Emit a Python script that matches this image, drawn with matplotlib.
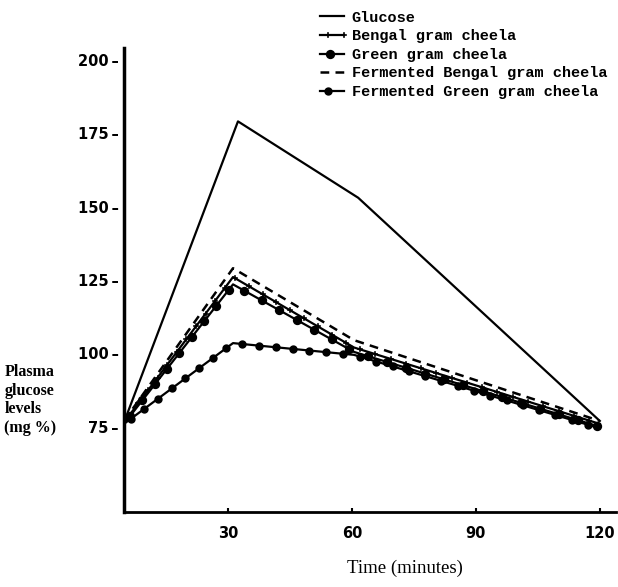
import numpy as np
import matplotlib
matplotlib.use("Agg")
import matplotlib.pyplot as plt
from matplotlib.patheffects import AbstractPathEffect
from matplotlib.path import Path
from matplotlib.transforms import Affine2D, IdentityTransform

# values (time in minutes, plasma glucose mg %)
labels = ["Glucose", "Bengal gram cheela", "Green gram cheela",
          "Fermented Bengal gram cheela", "Fermented Green gram cheela"]
t_glucose = [4.8, 32.4, 61.5, 120]
glucose = [76.5, 179, 153, 77]
t_cheela = [4.8, 31.2, 60.5, 120]
bengal = [76.5, 126, 102, 76]
green = [76, 123.5, 100.5, 75]
ferm_bengal = [77, 129, 104.5, 77]
ferm_green = [76, 103.5, 99.5, 74.5]

x_ticks = [30, 60, 90, 120]
y_ticks = [75, 100, 125, 150, 175, 200]


class MarkersAlong(AbstractPathEffect):
    # draws the line, then a marker every `spacing` pixels along it
    def __init__(self, marker="o", size=5, spacing=17):
        super().__init__()
        self.marker = marker
        self.size = size
        self.spacing = spacing

    def draw_path(self, renderer, gc, tpath, affine, rgbFace=None):
        renderer.draw_path(gc, tpath, affine, rgbFace)
        v = affine.transform(tpath.vertices)
        seg = np.hypot(*np.diff(v, axis=0).T)
        cum = np.concatenate([[0], np.cumsum(seg)])
        sp = self.spacing * renderer.points_to_pixels(1) / (100 / 72)
        d = np.arange(sp / 2, cum[-1], sp)
        pts = np.column_stack([np.interp(d, cum, v[:, 0]), np.interp(d, cum, v[:, 1])])
        if len(pts) == 0:
            return
        r = renderer.points_to_pixels(self.size) / 2
        if self.marker == "o":
            mpath = Path.unit_circle()
            face = gc.get_rgb()
        else:
            mpath = Path([[-1, 0], [1, 0], [0, -1], [0, 1]],
                         [Path.MOVETO, Path.LINETO, Path.MOVETO, Path.LINETO])
            face = None
        gc0 = renderer.new_gc()
        gc0.copy_properties(gc)
        gc0.set_dashes(0, None)
        gc0.set_linewidth(1.2)
        renderer.draw_markers(gc0, mpath, Affine2D().scale(r), Path(pts),
                              IdentityTransform(), face)
        gc0.restore()


fig = plt.figure(figsize=(6.18, 5.87), dpi=100)
ax = fig.add_axes([0.2006, 0.1278, 0.796, 0.7905])

ax.plot(t_glucose, glucose, color="black", lw=1.6, label=labels[0])
ax.plot(t_cheela, bengal, color="black", lw=1.6, label=labels[1],
        path_effects=[MarkersAlong("+", 3, 16)])
ax.plot(t_cheela, green, color="black", lw=1.6, label=labels[2],
        path_effects=[MarkersAlong("o", 5.5, 20)])
ax.plot(t_cheela, ferm_bengal, color="black", lw=1.8, ls=(0, (3.5, 2.5)),
        label=labels[3])
ax.plot(t_cheela, ferm_green, color="black", lw=1.6, label=labels[4],
        path_effects=[MarkersAlong("o", 4.8, 17)])

ax.set_xlim(4.8, 123.9)
ax.set_ylim(46, 204)

for s in ["top", "right"]:
    ax.spines[s].set_visible(False)
ax.spines["left"].set_linewidth(2.5)
ax.spines["bottom"].set_linewidth(2)

ax.set_xticks(x_ticks)
ax.set_xticklabels([str(v) for v in x_ticks], fontweight="bold", fontsize=10.5)
ax.tick_params(axis="x", direction="in", length=3, width=1.5, pad=10)
ax.set_yticks(y_ticks)
ax.set_yticklabels([f"{v}\u2009\u2013" for v in y_ticks], fontweight="bold", fontsize=10.5)
ax.tick_params(axis="y", length=0, pad=4)

fig.text(0.007, 0.258, "Plasma\nglucose\nlevels\n(mg %)", family="Liberation Serif",
         fontweight="bold", fontsize=11.5, ha="left", va="bottom", linespacing=1.2)
fig.text(0.655, 0.032, "Time (minutes)", family="Liberation Serif",
         fontsize=13.5, ha="center", va="center")

fig.legend(loc="upper left", bbox_to_anchor=(0.5, 1.0), frameon=False,
           prop={"family": "Liberation Mono", "weight": "bold", "size": 11},
           handlelength=1.6, handletextpad=0.5, labelspacing=0.3,
           borderaxespad=0.3)

fig.savefig("out.png", dpi=100)
